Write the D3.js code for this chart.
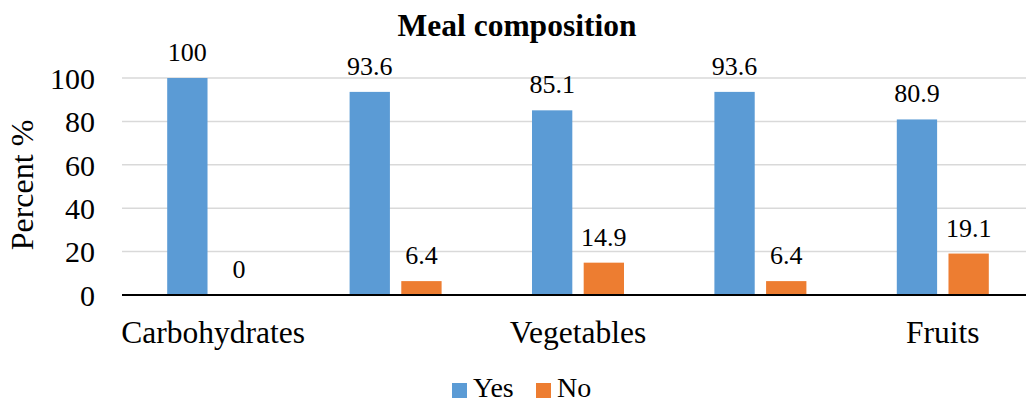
<!DOCTYPE html>
<html>
<head>
<meta charset="utf-8">
<script src="https://cdn.jsdelivr.net/npm/d3@7"></script>
<style>
  body { margin: 0; background: #fff; }
</style>
</head>
<body>
<svg id="chart" width="1026" height="402"></svg>
<script>
// chart data
const categories = ["Carbohydrates", "", "Vegetables", "", "Fruits"];
const series = ["Yes", "No"];
const yesValues = [100, 93.6, 85.1, 93.6, 80.9];
const noValues = [0, 6.4, 14.9, 6.4, 19.1];
const yTicks = [0, 20, 40, 60, 80, 100];
const colors = { Yes: "#5b9bd5", No: "#ed7d31" };

const FONT = "'Liberation Serif', 'Times New Roman', serif";

const rows = categories.map((c, i) => ({ idx: i, label: c, Yes: yesValues[i], No: noValues[i] }));

const svg = d3.select("#chart");
const plot = { left: 122, right: 1034, top: 78, bottom: 295 };

const x0 = d3.scaleBand()
  .domain(rows.map(d => d.idx))
  .range([plot.left, plot.right]);

const x1 = d3.scaleBand()
  .domain(series)
  .range([x0.bandwidth() / 2 - 46, x0.bandwidth() / 2 + 46])
  .paddingInner(0.22);

const y = d3.scaleLinear()
  .domain([0, 100])
  .range([plot.bottom, plot.top]);

// gridlines
svg.append("g")
  .selectAll("line")
  .data(yTicks.filter(t => t > 0))
  .join("line")
  .attr("x1", plot.left)
  .attr("x2", 1026)
  .attr("y1", d => y(d))
  .attr("y2", d => y(d))
  .attr("stroke", "#d9d9d9")
  .attr("stroke-width", 1.5);

// y axis labels
const yAxis = d3.axisLeft(y).tickValues(yTicks).tickSize(0).tickPadding(0);
svg.append("g")
  .attr("transform", `translate(95,0)`)
  .call(yAxis)
  .call(g => g.select(".domain").remove())
  .selectAll("text")
  .style("font-family", FONT)
  .style("font-size", "30px")
  .attr("fill", "#000")
  .attr("dy", "0.34em");

// bars
const groups = svg.append("g")
  .selectAll("g")
  .data(rows)
  .join("g")
  .attr("transform", d => `translate(${x0(d.idx)},0)`);

groups.selectAll("rect")
  .data(d => series.map(s => ({ key: s, value: d[s] })))
  .join("rect")
  .attr("x", d => x1(d.key))
  .attr("width", x1.bandwidth())
  .attr("y", d => y(d.value))
  .attr("height", d => y(0) - y(d.value))
  .attr("fill", d => colors[d.key]);

groups.selectAll("text.val")
  .data(d => series.map(s => ({ key: s, value: d[s] })))
  .join("text")
  .attr("class", "val")
  .attr("x", d => x1(d.key) + x1.bandwidth() / 2)
  .attr("y", d => y(d.value) - 17)
  .attr("text-anchor", "middle")
  .style("font-family", FONT)
  .style("font-size", "26px")
  .attr("fill", "#000")
  .text(d => d.value);

// x axis line
svg.append("line")
  .attr("x1", plot.left)
  .attr("x2", 1026)
  .attr("y1", y(0))
  .attr("y2", y(0))
  .attr("stroke", "#000")
  .attr("stroke-width", 2);

// category labels
const xAxis = d3.axisBottom(x0).tickSize(0).tickPadding(0).tickFormat(i => categories[i]);
svg.append("g")
  .attr("transform", `translate(0,${y(0)})`)
  .call(xAxis)
  .call(g => g.select(".domain").remove())
  .selectAll("text")
  .style("font-family", FONT)
  .style("font-size", "31.5px")
  .attr("fill", "#000")
  .attr("dy", null)
  .attr("y", 48);

// title
svg.append("text")
  .attr("x", 517)
  .attr("y", 36)
  .attr("text-anchor", "middle")
  .style("font-family", FONT)
  .style("font-size", "31.5px")
  .attr("font-weight", "bold")
  .text("Meal composition");

// y label
svg.append("text")
  .attr("transform", "translate(33,185) rotate(-90)")
  .attr("text-anchor", "middle")
  .style("font-family", FONT)
  .style("font-size", "32px")
  .text("Percent %");

// legend
const legend = svg.append("g")
  .selectAll("g")
  .data(series)
  .join("g")
  .attr("transform", (d, i) => `translate(${[452, 536][i]},383)`);

legend.append("rect")
  .attr("width", 15)
  .attr("height", 15)
  .attr("fill", d => colors[d]);

legend.append("text")
  .attr("x", 21)
  .attr("y", 14)
  .style("font-family", FONT)
  .style("font-size", "28px")
  .text(d => d);
</script>
</body>
</html>
